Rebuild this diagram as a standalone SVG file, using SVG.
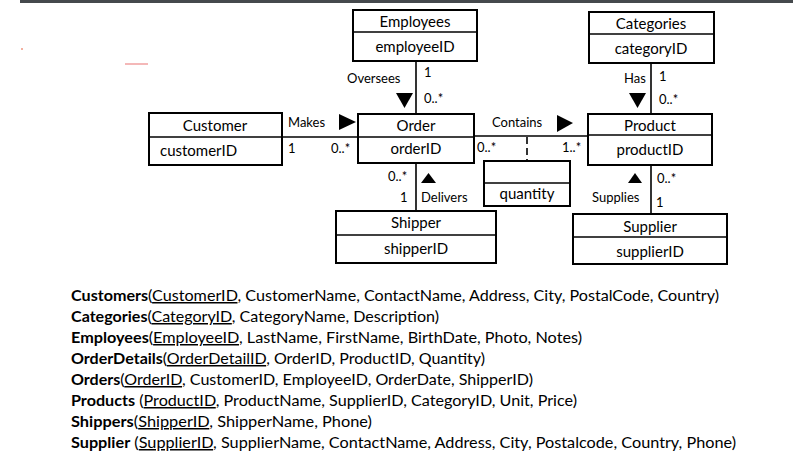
<svg xmlns="http://www.w3.org/2000/svg" width="793" height="476" viewBox="0 0 793 476">
<style>
.box{fill:#fff;stroke:#000;stroke-width:2}
.ln{stroke:#000;stroke-width:1.6;fill:none}
.t{font-family:Lato,"Open Sans",sans-serif;font-size:15px;fill:#000}
.c{text-anchor:middle}
.a{font-family:Lato,"Open Sans",sans-serif;font-size:13px;fill:#000}
.r{font-family:Lato,"Open Sans",sans-serif;font-size:15px;fill:#000}
.b{font-weight:bold}
.u{text-decoration:underline}
</style>
<rect x="20" y="0" width="773" height="3" fill="#45494d"/>
<rect x="21" y="48" width="2" height="2" fill="#f3b0a0"/>
<line x1="125" y1="64" x2="148" y2="64" stroke="#f0a0a0" stroke-width="1.5"/>

<g id="connectors">
<line class="ln" x1="416" y1="61" x2="416" y2="114"/>
<line class="ln" x1="651" y1="63" x2="651" y2="114"/>
<line class="ln" x1="282" y1="137" x2="358" y2="137"/>
<line class="ln" x1="474" y1="136" x2="588" y2="136"/>
<line class="ln" x1="527" y1="137" x2="527" y2="161" stroke-dasharray="7,4"/>
<line class="ln" x1="416" y1="163" x2="416" y2="211"/>
<line class="ln" x1="651" y1="165" x2="651" y2="214"/>
<polygon points="396,93 413,93 404.5,108" fill="#000"/>
<polygon points="629,93 646,93 637.5,108" fill="#000"/>
<polygon points="339,114 356,122 339,130" fill="#000"/>
<polygon points="557,115 573,123 557,132" fill="#000"/>
<polygon points="428.5,173 436,183 421,183" fill="#000"/>
<polygon points="635,173 642,183 628,183" fill="#000"/>
<text class="a" x="347" y="83">Oversees</text>
<text class="a" x="424" y="77">1</text>
<text class="a" x="424" y="103">0..*</text>
<text class="a" x="624" y="83">Has</text>
<text class="a" x="659" y="81">1</text>
<text class="a" x="659" y="104">0..*</text>
<text class="a" x="288" y="127">Makes</text>
<text class="a" x="288" y="153">1</text>
<text class="a" x="331" y="153">0..*</text>
<text class="a" x="492" y="127">Contains</text>
<text class="a" x="477" y="152">0..*</text>
<text class="a" x="562" y="152">1..*</text>
<text class="a" x="388" y="181">0..*</text>
<text class="a" x="400" y="202">1</text>
<text class="a" x="421" y="202">Delivers</text>
<text class="a" x="592" y="202">Supplies</text>
<text class="a" x="657" y="183">0..*</text>
<text class="a" x="656" y="207">1</text>
</g>

<g id="employees">
<rect class="box" x="353" y="10" width="124" height="51"/>
<line class="ln" x1="353" y1="32" x2="477" y2="32" stroke-width="2"/>
<text class="t c" x="415" y="27">Employees</text>
<text class="t c" x="415" y="52">employeeID</text>
</g>
<g id="categories">
<rect class="box" x="589" y="12" width="125" height="51"/>
<line class="ln" x1="589" y1="34" x2="714" y2="34" stroke-width="2"/>
<text class="t c" x="651" y="29">Categories</text>
<text class="t c" x="651" y="54">categoryID</text>
</g>
<g id="customer">
<rect class="box" x="149" y="113" width="133" height="52"/>
<line class="ln" x1="149" y1="137" x2="282" y2="137" stroke-width="2.5"/>
<text class="t c" x="215" y="131">Customer</text>
<text class="t" x="160" y="156">customerID</text>
</g>
<g id="order">
<rect class="box" x="358" y="114" width="116" height="49"/>
<line class="ln" x1="358" y1="137" x2="474" y2="137" stroke-width="2"/>
<text class="t c" x="416" y="131">Order</text>
<text class="t c" x="416" y="154">orderID</text>
</g>
<g id="product">
<rect class="box" x="588" y="114" width="124" height="51"/>
<line class="ln" x1="588" y1="135" x2="712" y2="135" stroke-width="2"/>
<text class="t c" x="650" y="131">Product</text>
<text class="t c" x="650" y="155">productID</text>
</g>
<g id="orderdetails">
<rect class="box" x="484" y="161" width="86" height="45"/>
<line class="ln" x1="484" y1="183" x2="570" y2="183" stroke-width="2"/>
<text class="t c" x="527" y="199">quantity</text>
</g>
<g id="shipper">
<rect class="box" x="336" y="211" width="160" height="52"/>
<line class="ln" x1="336" y1="235" x2="496" y2="235" stroke-width="2"/>
<text class="t c" x="416" y="228">Shipper</text>
<text class="t c" x="416" y="254">shipperID</text>
</g>
<g id="supplier">
<rect class="box" x="573" y="214" width="154" height="50"/>
<line class="ln" x1="573" y1="237" x2="727" y2="237" stroke-width="2"/>
<text class="t c" x="650" y="232">Supplier</text>
<text class="t c" x="650" y="257">supplierID</text>
</g>

<g id="schema">
<text class="r" x="71" y="301" textLength="648" lengthAdjust="spacingAndGlyphs"><tspan class="b">Customers</tspan>(<tspan class="u">CustomerID</tspan>, CustomerName, ContactName, Address, City, PostalCode, Country)</text>
<text class="r" x="71" y="322" textLength="368" lengthAdjust="spacingAndGlyphs"><tspan class="b">Categories</tspan>(<tspan class="u">CategoryID</tspan>, CategoryName, Description)</text>
<text class="r" x="71" y="343" textLength="511" lengthAdjust="spacingAndGlyphs"><tspan class="b">Employees</tspan>(<tspan class="u">EmployeeID</tspan>, LastName, FirstName, BirthDate, Photo, Notes)</text>
<text class="r" x="71" y="364" textLength="414" lengthAdjust="spacingAndGlyphs"><tspan class="b">OrderDetails</tspan>(<tspan class="u">OrderDetailID</tspan>, OrderID, ProductID, Quantity)</text>
<text class="r" x="71" y="385" textLength="462" lengthAdjust="spacingAndGlyphs"><tspan class="b">Orders</tspan>(<tspan class="u">OrderID</tspan>, CustomerID, EmployeeID, OrderDate, ShipperID)</text>
<text class="r" x="71" y="406" textLength="506" lengthAdjust="spacingAndGlyphs"><tspan class="b">Products</tspan> (<tspan class="u">ProductID</tspan>, ProductName, SupplierID, CategoryID, Unit, Price)</text>
<text class="r" x="71" y="427" textLength="301" lengthAdjust="spacingAndGlyphs"><tspan class="b">Shippers</tspan>(<tspan class="u">ShipperID</tspan>, ShipperName, Phone)</text>
<text class="r" x="71" y="448" textLength="665" lengthAdjust="spacingAndGlyphs"><tspan class="b">Supplier</tspan> (<tspan class="u">SupplierID</tspan>, SupplierName, ContactName, Address, City, Postalcode, Country, Phone)</text>
</g>
</svg>
